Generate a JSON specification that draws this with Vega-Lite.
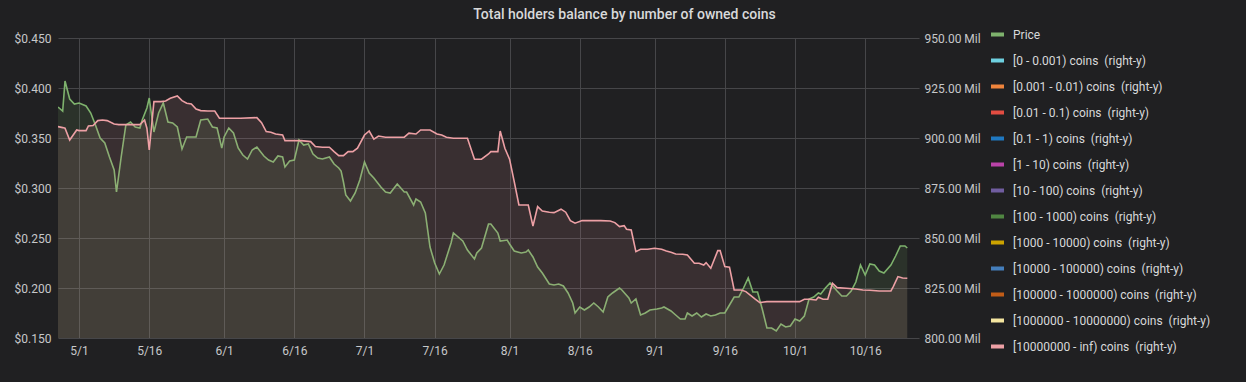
{
  "$schema": "https://vega.github.io/schema/vega-lite/v6.json",
  "autosize": "none",
  "width": 861,
  "height": 300,
  "padding": {"left": 58, "top": 38, "right": 327, "bottom": 44},
  "background": "#202022",
  "title": {"text": "Total holders balance by number of owned coins", "font": "Roboto", "fontSize": 14, "fontWeight": 500, "color": "#d8d9da", "anchor": "middle", "dx": 136, "offset": -7, "baseline": "alphabetic"},
  "config": {
    "view": {"stroke": null},
    "axis": {"domain": false, "ticks": false, "tickSize": 0, "grid": false, "labelFont": "Roboto", "labelFontSize": 12, "labelColor": "#c7c8ca", "gridColor": "#464649", "gridWidth": 1, "title": null},
    "legend": {"orient": "none", "legendX": 931, "legendY": -12, "title": null, "padding": 0, "symbolType": "stroke", "symbolSize": 169, "symbolStrokeWidth": 4, "labelFont": "Roboto", "labelFontSize": 12, "labelColor": "#d8d9da", "labelOffset": 7, "rowPadding": 9, "labelLimit": 400}
  },
  "datasets": {
    "price": [
      {"t": "2019-04-26T12:00:00Z", "p": 0.381}, {"t": "2019-04-27T12:00:00Z", "p": 0.377}, {"t": "2019-04-28T00:00:00Z", "p": 0.407},
      {"t": "2019-04-29T00:00:00Z", "p": 0.389}, {"t": "2019-04-30T00:00:00Z", "p": 0.384}, {"t": "2019-05-01T00:00:00Z", "p": 0.385},
      {"t": "2019-05-02T12:00:00Z", "p": 0.382}, {"t": "2019-05-03T12:00:00Z", "p": 0.375}, {"t": "2019-05-04T12:00:00Z", "p": 0.363},
      {"t": "2019-05-05T12:00:00Z", "p": 0.350}, {"t": "2019-05-06T12:00:00Z", "p": 0.345}, {"t": "2019-05-07T12:00:00Z", "p": 0.331},
      {"t": "2019-05-08T12:00:00Z", "p": 0.318}, {"t": "2019-05-09T00:00:00Z", "p": 0.296}, {"t": "2019-05-10T00:00:00Z", "p": 0.331},
      {"t": "2019-05-11T00:00:00Z", "p": 0.363}, {"t": "2019-05-12T00:00:00Z", "p": 0.366}, {"t": "2019-05-13T00:00:00Z", "p": 0.361},
      {"t": "2019-05-14T00:00:00Z", "p": 0.360}, {"t": "2019-05-14T12:00:00Z", "p": 0.368}, {"t": "2019-05-15T12:00:00Z", "p": 0.380},
      {"t": "2019-05-16T00:00:00Z", "p": 0.390}, {"t": "2019-05-17T00:00:00Z", "p": 0.356}, {"t": "2019-05-18T00:00:00Z", "p": 0.375},
      {"t": "2019-05-19T00:00:00Z", "p": 0.385}, {"t": "2019-05-20T00:00:00Z", "p": 0.366}, {"t": "2019-05-21T00:00:00Z", "p": 0.365},
      {"t": "2019-05-22T00:00:00Z", "p": 0.361}, {"t": "2019-05-23T00:00:00Z", "p": 0.339}, {"t": "2019-05-24T00:00:00Z", "p": 0.351},
      {"t": "2019-05-25T00:00:00Z", "p": 0.351}, {"t": "2019-05-26T00:00:00Z", "p": 0.351}, {"t": "2019-05-27T00:00:00Z", "p": 0.368},
      {"t": "2019-05-28T12:00:00Z", "p": 0.369}, {"t": "2019-05-29T12:00:00Z", "p": 0.361}, {"t": "2019-05-30T12:00:00Z", "p": 0.360},
      {"t": "2019-05-31T12:00:00Z", "p": 0.340}, {"t": "2019-06-01T00:00:00Z", "p": 0.351}, {"t": "2019-06-02T00:00:00Z", "p": 0.360},
      {"t": "2019-06-03T00:00:00Z", "p": 0.355}, {"t": "2019-06-04T00:00:00Z", "p": 0.340}, {"t": "2019-06-05T00:00:00Z", "p": 0.333},
      {"t": "2019-06-06T00:00:00Z", "p": 0.329}, {"t": "2019-06-07T00:00:00Z", "p": 0.338}, {"t": "2019-06-08T00:00:00Z", "p": 0.341},
      {"t": "2019-06-09T12:00:00Z", "p": 0.332}, {"t": "2019-06-10T12:00:00Z", "p": 0.328}, {"t": "2019-06-11T12:00:00Z", "p": 0.326},
      {"t": "2019-06-12T12:00:00Z", "p": 0.332}, {"t": "2019-06-13T12:00:00Z", "p": 0.331}, {"t": "2019-06-14T00:00:00Z", "p": 0.321},
      {"t": "2019-06-15T00:00:00Z", "p": 0.327}, {"t": "2019-06-16T00:00:00Z", "p": 0.328}, {"t": "2019-06-17T00:00:00Z", "p": 0.348},
      {"t": "2019-06-18T00:00:00Z", "p": 0.343}, {"t": "2019-06-19T00:00:00Z", "p": 0.344}, {"t": "2019-06-20T00:00:00Z", "p": 0.334},
      {"t": "2019-06-21T00:00:00Z", "p": 0.330}, {"t": "2019-06-22T00:00:00Z", "p": 0.329}, {"t": "2019-06-23T12:00:00Z", "p": 0.331},
      {"t": "2019-06-24T12:00:00Z", "p": 0.324}, {"t": "2019-06-25T12:00:00Z", "p": 0.320}, {"t": "2019-06-26T00:00:00Z", "p": 0.317},
      {"t": "2019-06-26T12:00:00Z", "p": 0.306}, {"t": "2019-06-27T00:00:00Z", "p": 0.293}, {"t": "2019-06-28T00:00:00Z", "p": 0.287},
      {"t": "2019-06-29T00:00:00Z", "p": 0.295}, {"t": "2019-06-30T00:00:00Z", "p": 0.308}, {"t": "2019-07-01T00:00:00Z", "p": 0.326},
      {"t": "2019-07-02T00:00:00Z", "p": 0.315}, {"t": "2019-07-03T00:00:00Z", "p": 0.310}, {"t": "2019-07-04T12:00:00Z", "p": 0.301},
      {"t": "2019-07-05T12:00:00Z", "p": 0.296}, {"t": "2019-07-06T12:00:00Z", "p": 0.295}, {"t": "2019-07-07T00:00:00Z", "p": 0.298},
      {"t": "2019-07-08T00:00:00Z", "p": 0.304}, {"t": "2019-07-09T12:00:00Z", "p": 0.296}, {"t": "2019-07-10T00:00:00Z", "p": 0.296},
      {"t": "2019-07-11T12:00:00Z", "p": 0.283}, {"t": "2019-07-12T00:00:00Z", "p": 0.289}, {"t": "2019-07-13T00:00:00Z", "p": 0.286},
      {"t": "2019-07-14T00:00:00Z", "p": 0.275}, {"t": "2019-07-15T00:00:00Z", "p": 0.241}, {"t": "2019-07-16T00:00:00Z", "p": 0.225},
      {"t": "2019-07-17T00:00:00Z", "p": 0.214}, {"t": "2019-07-18T00:00:00Z", "p": 0.223}, {"t": "2019-07-19T12:00:00Z", "p": 0.245},
      {"t": "2019-07-20T00:00:00Z", "p": 0.255}, {"t": "2019-07-21T12:00:00Z", "p": 0.249}, {"t": "2019-07-22T00:00:00Z", "p": 0.247},
      {"t": "2019-07-23T00:00:00Z", "p": 0.238}, {"t": "2019-07-24T12:00:00Z", "p": 0.229}, {"t": "2019-07-25T00:00:00Z", "p": 0.235},
      {"t": "2019-07-26T00:00:00Z", "p": 0.240}, {"t": "2019-07-27T12:00:00Z", "p": 0.264}, {"t": "2019-07-28T00:00:00Z", "p": 0.264},
      {"t": "2019-07-29T12:00:00Z", "p": 0.255}, {"t": "2019-07-30T00:00:00Z", "p": 0.247}, {"t": "2019-07-31T12:00:00Z", "p": 0.248},
      {"t": "2019-08-01T00:00:00Z", "p": 0.244}, {"t": "2019-08-02T00:00:00Z", "p": 0.237}, {"t": "2019-08-03T12:00:00Z", "p": 0.235},
      {"t": "2019-08-04T12:00:00Z", "p": 0.236}, {"t": "2019-08-05T00:00:00Z", "p": 0.238}, {"t": "2019-08-06T00:00:00Z", "p": 0.231},
      {"t": "2019-08-07T00:00:00Z", "p": 0.221}, {"t": "2019-08-08T00:00:00Z", "p": 0.215}, {"t": "2019-08-09T12:00:00Z", "p": 0.204},
      {"t": "2019-08-10T12:00:00Z", "p": 0.203}, {"t": "2019-08-11T12:00:00Z", "p": 0.204}, {"t": "2019-08-12T12:00:00Z", "p": 0.202},
      {"t": "2019-08-13T12:00:00Z", "p": 0.195}, {"t": "2019-08-14T12:00:00Z", "p": 0.185}, {"t": "2019-08-15T00:00:00Z", "p": 0.175},
      {"t": "2019-08-16T00:00:00Z", "p": 0.181}, {"t": "2019-08-17T00:00:00Z", "p": 0.178}, {"t": "2019-08-18T00:00:00Z", "p": 0.181},
      {"t": "2019-08-19T00:00:00Z", "p": 0.185}, {"t": "2019-08-20T00:00:00Z", "p": 0.181}, {"t": "2019-08-21T00:00:00Z", "p": 0.176},
      {"t": "2019-08-22T00:00:00Z", "p": 0.191}, {"t": "2019-08-23T00:00:00Z", "p": 0.195}, {"t": "2019-08-24T12:00:00Z", "p": 0.200},
      {"t": "2019-08-25T00:00:00Z", "p": 0.198}, {"t": "2019-08-26T12:00:00Z", "p": 0.190}, {"t": "2019-08-27T00:00:00Z", "p": 0.185},
      {"t": "2019-08-28T00:00:00Z", "p": 0.189}, {"t": "2019-08-29T00:00:00Z", "p": 0.173}, {"t": "2019-08-30T00:00:00Z", "p": 0.175},
      {"t": "2019-08-31T00:00:00Z", "p": 0.178}, {"t": "2019-09-01T12:00:00Z", "p": 0.179}, {"t": "2019-09-02T12:00:00Z", "p": 0.180},
      {"t": "2019-09-03T00:00:00Z", "p": 0.181}, {"t": "2019-09-04T12:00:00Z", "p": 0.177}, {"t": "2019-09-05T12:00:00Z", "p": 0.173},
      {"t": "2019-09-06T12:00:00Z", "p": 0.169}, {"t": "2019-09-07T12:00:00Z", "p": 0.169}, {"t": "2019-09-08T00:00:00Z", "p": 0.175},
      {"t": "2019-09-09T00:00:00Z", "p": 0.172}, {"t": "2019-09-10T00:00:00Z", "p": 0.175}, {"t": "2019-09-11T00:00:00Z", "p": 0.171},
      {"t": "2019-09-12T00:00:00Z", "p": 0.174}, {"t": "2019-09-13T00:00:00Z", "p": 0.172}, {"t": "2019-09-14T00:00:00Z", "p": 0.173},
      {"t": "2019-09-15T00:00:00Z", "p": 0.175}, {"t": "2019-09-16T00:00:00Z", "p": 0.175}, {"t": "2019-09-17T00:00:00Z", "p": 0.183},
      {"t": "2019-09-18T00:00:00Z", "p": 0.191}, {"t": "2019-09-19T00:00:00Z", "p": 0.191}, {"t": "2019-09-20T00:00:00Z", "p": 0.200},
      {"t": "2019-09-21T00:00:00Z", "p": 0.210}, {"t": "2019-09-22T00:00:00Z", "p": 0.196}, {"t": "2019-09-23T00:00:00Z", "p": 0.196},
      {"t": "2019-09-24T00:00:00Z", "p": 0.179}, {"t": "2019-09-25T00:00:00Z", "p": 0.160}, {"t": "2019-09-26T00:00:00Z", "p": 0.160},
      {"t": "2019-09-27T00:00:00Z", "p": 0.157}, {"t": "2019-09-28T00:00:00Z", "p": 0.164}, {"t": "2019-09-29T00:00:00Z", "p": 0.161},
      {"t": "2019-09-30T00:00:00Z", "p": 0.162}, {"t": "2019-10-01T00:00:00Z", "p": 0.169}, {"t": "2019-10-02T00:00:00Z", "p": 0.167},
      {"t": "2019-10-03T00:00:00Z", "p": 0.172}, {"t": "2019-10-04T00:00:00Z", "p": 0.189}, {"t": "2019-10-05T00:00:00Z", "p": 0.191},
      {"t": "2019-10-06T00:00:00Z", "p": 0.195}, {"t": "2019-10-06T12:00:00Z", "p": 0.194}, {"t": "2019-10-07T12:00:00Z", "p": 0.200},
      {"t": "2019-10-08T12:00:00Z", "p": 0.205}, {"t": "2019-10-10T00:00:00Z", "p": 0.197}, {"t": "2019-10-11T00:00:00Z", "p": 0.192},
      {"t": "2019-10-12T00:00:00Z", "p": 0.192}, {"t": "2019-10-13T00:00:00Z", "p": 0.197}, {"t": "2019-10-14T00:00:00Z", "p": 0.206},
      {"t": "2019-10-15T00:00:00Z", "p": 0.223}, {"t": "2019-10-16T00:00:00Z", "p": 0.213}, {"t": "2019-10-17T00:00:00Z", "p": 0.224},
      {"t": "2019-10-18T00:00:00Z", "p": 0.223}, {"t": "2019-10-19T00:00:00Z", "p": 0.217}, {"t": "2019-10-20T00:00:00Z", "p": 0.215},
      {"t": "2019-10-21T12:00:00Z", "p": 0.223}, {"t": "2019-10-22T12:00:00Z", "p": 0.232}, {"t": "2019-10-23T12:00:00Z", "p": 0.242},
      {"t": "2019-10-24T12:00:00Z", "p": 0.242}, {"t": "2019-10-25T00:00:00Z", "p": 0.240}
    ],
    "holders": [
      {"t": "2019-04-26T12:00:00Z", "h": 905.7}, {"t": "2019-04-27T12:00:00Z", "h": 905.2}, {"t": "2019-04-28T00:00:00Z", "h": 904.9},
      {"t": "2019-04-29T00:00:00Z", "h": 899.0}, {"t": "2019-04-30T12:00:00Z", "h": 904.0}, {"t": "2019-05-01T00:00:00Z", "h": 903.7},
      {"t": "2019-05-02T12:00:00Z", "h": 903.7}, {"t": "2019-05-03T00:00:00Z", "h": 906.0}, {"t": "2019-05-04T00:00:00Z", "h": 906.2},
      {"t": "2019-05-05T00:00:00Z", "h": 908.7}, {"t": "2019-05-06T00:00:00Z", "h": 909.0}, {"t": "2019-05-07T00:00:00Z", "h": 908.7},
      {"t": "2019-05-08T12:00:00Z", "h": 907.0}, {"t": "2019-05-09T12:00:00Z", "h": 906.7}, {"t": "2019-05-12T00:00:00Z", "h": 906.7},
      {"t": "2019-05-14T00:00:00Z", "h": 906.7}, {"t": "2019-05-15T00:00:00Z", "h": 909.0}, {"t": "2019-05-15T12:00:00Z", "h": 904.9},
      {"t": "2019-05-16T00:00:00Z", "h": 894.0}, {"t": "2019-05-17T00:00:00Z", "h": 918.2}, {"t": "2019-05-18T12:00:00Z", "h": 918.2},
      {"t": "2019-05-19T12:00:00Z", "h": 918.5}, {"t": "2019-05-20T12:00:00Z", "h": 919.9}, {"t": "2019-05-22T00:00:00Z", "h": 921.0},
      {"t": "2019-05-23T00:00:00Z", "h": 918.7}, {"t": "2019-05-24T00:00:00Z", "h": 917.4}, {"t": "2019-05-25T00:00:00Z", "h": 917.0},
      {"t": "2019-05-26T00:00:00Z", "h": 914.5}, {"t": "2019-05-27T00:00:00Z", "h": 913.7}, {"t": "2019-05-28T12:00:00Z", "h": 913.5},
      {"t": "2019-05-30T00:00:00Z", "h": 913.5}, {"t": "2019-05-31T00:00:00Z", "h": 909.9}, {"t": "2019-06-01T12:00:00Z", "h": 909.9},
      {"t": "2019-06-04T12:00:00Z", "h": 909.9}, {"t": "2019-06-08T00:00:00Z", "h": 910.2}, {"t": "2019-06-09T00:00:00Z", "h": 907.7},
      {"t": "2019-06-10T00:00:00Z", "h": 903.2}, {"t": "2019-06-11T00:00:00Z", "h": 902.9}, {"t": "2019-06-12T00:00:00Z", "h": 902.0},
      {"t": "2019-06-13T12:00:00Z", "h": 901.5}, {"t": "2019-06-14T00:00:00Z", "h": 898.7}, {"t": "2019-06-15T12:00:00Z", "h": 898.7},
      {"t": "2019-06-17T12:00:00Z", "h": 898.7}, {"t": "2019-06-19T12:00:00Z", "h": 898.2}, {"t": "2019-06-20T12:00:00Z", "h": 895.7},
      {"t": "2019-06-22T00:00:00Z", "h": 895.4}, {"t": "2019-06-23T12:00:00Z", "h": 895.4}, {"t": "2019-06-24T12:00:00Z", "h": 893.2},
      {"t": "2019-06-25T12:00:00Z", "h": 891.2}, {"t": "2019-06-26T12:00:00Z", "h": 891.2}, {"t": "2019-06-27T12:00:00Z", "h": 893.2},
      {"t": "2019-06-28T12:00:00Z", "h": 893.2}, {"t": "2019-06-29T12:00:00Z", "h": 894.9}, {"t": "2019-07-01T00:00:00Z", "h": 901.5},
      {"t": "2019-07-02T00:00:00Z", "h": 903.5}, {"t": "2019-07-03T00:00:00Z", "h": 899.4}, {"t": "2019-07-04T00:00:00Z", "h": 901.0},
      {"t": "2019-07-05T12:00:00Z", "h": 900.4}, {"t": "2019-07-07T00:00:00Z", "h": 900.4}, {"t": "2019-07-09T12:00:00Z", "h": 900.4},
      {"t": "2019-07-10T12:00:00Z", "h": 902.4}, {"t": "2019-07-12T00:00:00Z", "h": 902.0}, {"t": "2019-07-13T00:00:00Z", "h": 904.0},
      {"t": "2019-07-15T00:00:00Z", "h": 904.0}, {"t": "2019-07-16T12:00:00Z", "h": 902.0}, {"t": "2019-07-17T12:00:00Z", "h": 901.5},
      {"t": "2019-07-18T12:00:00Z", "h": 900.4}, {"t": "2019-07-20T00:00:00Z", "h": 899.9}, {"t": "2019-07-23T00:00:00Z", "h": 899.9},
      {"t": "2019-07-24T12:00:00Z", "h": 889.4}, {"t": "2019-07-26T00:00:00Z", "h": 889.4}, {"t": "2019-07-27T12:00:00Z", "h": 892.0},
      {"t": "2019-07-28T00:00:00Z", "h": 893.2}, {"t": "2019-07-29T12:00:00Z", "h": 893.2}, {"t": "2019-07-30T00:00:00Z", "h": 903.5},
      {"t": "2019-07-31T00:00:00Z", "h": 894.9}, {"t": "2019-08-01T00:00:00Z", "h": 889.4}, {"t": "2019-08-02T00:00:00Z", "h": 878.2},
      {"t": "2019-08-03T00:00:00Z", "h": 866.5}, {"t": "2019-08-05T00:00:00Z", "h": 866.5}, {"t": "2019-08-06T00:00:00Z", "h": 856.0},
      {"t": "2019-08-07T00:00:00Z", "h": 865.7}, {"t": "2019-08-08T00:00:00Z", "h": 863.5}, {"t": "2019-08-09T12:00:00Z", "h": 862.9},
      {"t": "2019-08-10T12:00:00Z", "h": 862.7}, {"t": "2019-08-12T00:00:00Z", "h": 864.4}, {"t": "2019-08-13T00:00:00Z", "h": 862.9},
      {"t": "2019-08-14T00:00:00Z", "h": 858.7}, {"t": "2019-08-15T00:00:00Z", "h": 857.4}, {"t": "2019-08-16T12:00:00Z", "h": 858.7},
      {"t": "2019-08-20T12:00:00Z", "h": 858.7}, {"t": "2019-08-22T12:00:00Z", "h": 858.5}, {"t": "2019-08-23T12:00:00Z", "h": 857.7},
      {"t": "2019-08-24T12:00:00Z", "h": 855.7}, {"t": "2019-08-25T12:00:00Z", "h": 856.2}, {"t": "2019-08-26T00:00:00Z", "h": 854.4},
      {"t": "2019-08-27T00:00:00Z", "h": 854.0}, {"t": "2019-08-28T00:00:00Z", "h": 843.2}, {"t": "2019-08-29T00:00:00Z", "h": 844.4},
      {"t": "2019-08-30T12:00:00Z", "h": 844.4}, {"t": "2019-09-01T00:00:00Z", "h": 844.9}, {"t": "2019-09-02T12:00:00Z", "h": 844.4},
      {"t": "2019-09-03T12:00:00Z", "h": 843.5}, {"t": "2019-09-04T12:00:00Z", "h": 842.9}, {"t": "2019-09-05T12:00:00Z", "h": 842.0},
      {"t": "2019-09-07T00:00:00Z", "h": 841.9}, {"t": "2019-09-08T00:00:00Z", "h": 841.5}, {"t": "2019-09-09T12:00:00Z", "h": 837.4},
      {"t": "2019-09-10T12:00:00Z", "h": 837.4}, {"t": "2019-09-11T12:00:00Z", "h": 836.5}, {"t": "2019-09-12T00:00:00Z", "h": 837.7},
      {"t": "2019-09-13T00:00:00Z", "h": 834.9}, {"t": "2019-09-14T12:00:00Z", "h": 843.7}, {"t": "2019-09-15T00:00:00Z", "h": 843.7},
      {"t": "2019-09-16T00:00:00Z", "h": 835.7}, {"t": "2019-09-17T00:00:00Z", "h": 835.4}, {"t": "2019-09-18T00:00:00Z", "h": 824.0},
      {"t": "2019-09-19T12:00:00Z", "h": 824.0}, {"t": "2019-09-20T12:00:00Z", "h": 823.2}, {"t": "2019-09-21T12:00:00Z", "h": 821.3},
      {"t": "2019-09-22T12:00:00Z", "h": 819.4}, {"t": "2019-09-23T12:00:00Z", "h": 817.7}, {"t": "2019-09-25T00:00:00Z", "h": 818.2},
      {"t": "2019-09-28T12:00:00Z", "h": 818.2}, {"t": "2019-10-02T00:00:00Z", "h": 818.2}, {"t": "2019-10-03T00:00:00Z", "h": 819.4},
      {"t": "2019-10-04T00:00:00Z", "h": 819.4}, {"t": "2019-10-05T12:00:00Z", "h": 819.0}, {"t": "2019-10-06T00:00:00Z", "h": 820.4},
      {"t": "2019-10-07T00:00:00Z", "h": 819.4}, {"t": "2019-10-08T00:00:00Z", "h": 819.4}, {"t": "2019-10-09T00:00:00Z", "h": 827.4},
      {"t": "2019-10-10T00:00:00Z", "h": 825.2}, {"t": "2019-10-12T00:00:00Z", "h": 824.9}, {"t": "2019-10-14T00:00:00Z", "h": 824.5},
      {"t": "2019-10-15T12:00:00Z", "h": 824.0}, {"t": "2019-10-17T00:00:00Z", "h": 823.9}, {"t": "2019-10-19T00:00:00Z", "h": 823.5},
      {"t": "2019-10-21T12:00:00Z", "h": 823.5}, {"t": "2019-10-22T00:00:00Z", "h": 825.7}, {"t": "2019-10-23T00:00:00Z", "h": 830.7},
      {"t": "2019-10-24T00:00:00Z", "h": 830.0}, {"t": "2019-10-25T00:00:00Z", "h": 829.9}
    ]
  },
  "encoding": {
    "x": {
      "field": "t", "type": "temporal",
      "scale": {"type": "utc", "domain": [{"year": 2019, "month": 4, "date": 26, "hours": 12, "utc": true}, {"year": 2019, "month": 10, "date": 27, "hours": 12, "utc": true}]},
      "axis": {
        "grid": true, "format": "%-m/%-d", "labelFlush": false, "labelPadding": 7,
        "values": [
          {"year": 2019, "month": 5, "date": 1, "utc": true}, {"year": 2019, "month": 5, "date": 16, "utc": true},
          {"year": 2019, "month": 6, "date": 1, "utc": true}, {"year": 2019, "month": 6, "date": 16, "utc": true},
          {"year": 2019, "month": 7, "date": 1, "utc": true}, {"year": 2019, "month": 7, "date": 16, "utc": true},
          {"year": 2019, "month": 8, "date": 1, "utc": true}, {"year": 2019, "month": 8, "date": 16, "utc": true},
          {"year": 2019, "month": 9, "date": 1, "utc": true}, {"year": 2019, "month": 9, "date": 16, "utc": true},
          {"year": 2019, "month": 10, "date": 1, "utc": true}, {"year": 2019, "month": 10, "date": 16, "utc": true}
        ]
      }
    }
  },
  "layer": [
    {
      "data": {"name": "price"},
      "encoding": {
        "y": {"field": "p", "type": "quantitative", "scale": {"domain": [0.15, 0.45], "nice": false, "zero": false},
          "axis": {"orient": "left", "grid": true, "format": "$.3f", "labelPadding": 7, "values": [0.15, 0.2, 0.25, 0.3, 0.35, 0.4, 0.45]}}
      },
      "layer": [
        {"mark": {"type": "area", "color": "#7eb26d", "opacity": 0.12, "clip": true}},
        {"mark": {"type": "line", "strokeWidth": 1.6, "clip": true},
          "encoding": {"color": {"datum": "Price", "type": "nominal"}}}
      ]
    },
    {
      "data": {"name": "holders"},
      "encoding": {
        "y": {"field": "h", "type": "quantitative", "scale": {"domain": [800, 950], "nice": false, "zero": false},
          "axis": {"orient": "right", "grid": false, "labelPadding": 5, "labelExpr": "format(datum.value, '.2f') + ' Mil'", "values": [800, 825, 850, 875, 900, 925, 950]}}
      },
      "layer": [
        {"mark": {"type": "area", "color": "#eda0a5", "opacity": 0.12, "clip": true}},
        {"mark": {"type": "line", "strokeWidth": 1.6, "clip": true},
          "encoding": {"color": {"datum": "[10000000 - inf) coins\u00a0 (right-y)", "type": "nominal",
            "scale": {
              "domain": ["Price", "[0 - 0.001) coins\u00a0 (right-y)", "[0.001 - 0.01) coins\u00a0 (right-y)", "[0.01 - 0.1) coins\u00a0 (right-y)", "[0.1 - 1) coins\u00a0 (right-y)", "[1 - 10) coins\u00a0 (right-y)", "[10 - 100) coins\u00a0 (right-y)", "[100 - 1000) coins\u00a0 (right-y)", "[1000 - 10000) coins\u00a0 (right-y)", "[10000 - 100000) coins\u00a0 (right-y)", "[100000 - 1000000) coins\u00a0 (right-y)", "[1000000 - 10000000) coins\u00a0 (right-y)", "[10000000 - inf) coins\u00a0 (right-y)"],
              "range": ["#7eb26d", "#6ed0e0", "#ef843c", "#e24d42", "#1f78c1", "#ba43a9", "#705da0", "#508642", "#cca300", "#447ebc", "#c15c17", "#f4e5a0", "#eda0a5"]
            }
          }}}
      ]
    }
  ],
  "resolve": {"scale": {"y": "independent"}, "axis": {"y": "independent"}}
}
